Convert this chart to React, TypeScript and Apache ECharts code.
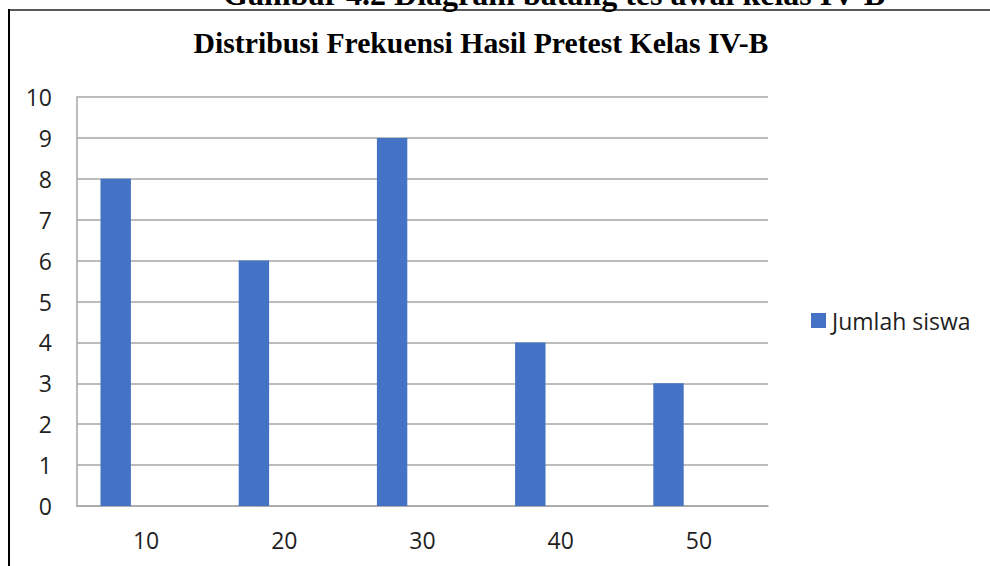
import React, { useEffect, useRef } from "react";
import * as echarts from "echarts";

const categories = ["10", "20", "30", "40", "50"];
const jumlahSiswa = [8, 6, 9, 4, 3];
const seriesName = "Jumlah siswa";
const captionText = "Gambar 4.2 Diagram batang tes awal kelas IV-B";
const titleText = "Distribusi Frekuensi Hasil Pretest Kelas IV-B";

export default function App() {
  const ref = useRef<HTMLDivElement>(null);
  useEffect(() => {
    if (!ref.current) return;
    const chart = echarts.init(ref.current, null, { renderer: "svg" });
    const labelFont = "'Open Sans', 'Noto Sans', sans-serif";
    const empty = categories.map(() => null);
    chart.setOption({
      animation: false,
      backgroundColor: "#ffffff",
      grid: { left: 77, right: 222, top: 97, bottom: 60, containLabel: false },
      xAxis: {
        type: "category",
        data: categories,
        axisLine: { show: true, lineStyle: { color: "#a6a6a6", width: 1.5 } },
        axisTick: { show: false },
        axisLabel: { fontSize: 23, color: "#1f1f1f", fontFamily: labelFont, margin: 22 },
      },
      yAxis: {
        type: "value",
        min: 0,
        max: 10,
        interval: 1,
        axisLine: { show: true, lineStyle: { color: "#a6a6a6", width: 1.5 } },
        axisTick: { show: false },
        splitLine: { show: true, lineStyle: { color: "#a6a6a6", width: 1.5 } },
        axisLabel: { fontSize: 23, color: "#1f1f1f", fontFamily: labelFont, margin: 25 },
      },
      legend: {
        data: [seriesName],
        left: 811,
        top: 309,
        padding: 0,
        icon: "rect",
        itemWidth: 15,
        itemHeight: 15,
        itemGap: 6,
        textStyle: { fontSize: 23, color: "#1f1f1f", fontFamily: labelFont, padding: [0, 0, 0, 1] },
      },
      series: [
        {
          name: seriesName,
          type: "bar",
          data: jumlahSiswa,
          barWidth: 30.4,
          barGap: "0%",
          itemStyle: { color: "#4472c4" },
        },
        { name: "s2", type: "bar", data: empty, barWidth: 30.4, barGap: "0%" },
        { name: "s3", type: "bar", data: empty, barWidth: 30.4, barGap: "0%" },
      ],
      graphic: [
        {
          type: "line",
          shape: { x1: 8, y1: 10, x2: 990, y2: 10 },
          style: { stroke: "#595959", lineWidth: 2 },
        },
        {
          type: "line",
          shape: { x1: 9, y1: 9, x2: 9, y2: 566 },
          style: { stroke: "#000000", lineWidth: 2 },
        },
        {
          type: "text",
          x: 554,
          y: -6,
          style: {
            text: captionText,
            textAlign: "center",
            textVerticalAlign: "middle",
            font: "bold 32px 'Liberation Serif', 'Times New Roman', serif",
            fill: "#000000",
          },
        },
        {
          type: "text",
          x: 481,
          y: 43,
          style: {
            text: titleText,
            textAlign: "center",
            textVerticalAlign: "middle",
            font: "bold 29.7px 'Liberation Serif', 'Times New Roman', serif",
            fill: "#000000",
          },
        },
      ],
    });
    return () => chart.dispose();
  }, []);
  return (
    <div
      ref={ref}
      style={{ position: "absolute", left: 0, top: 0, width: 990, height: 566 }}
    />
  );
}
